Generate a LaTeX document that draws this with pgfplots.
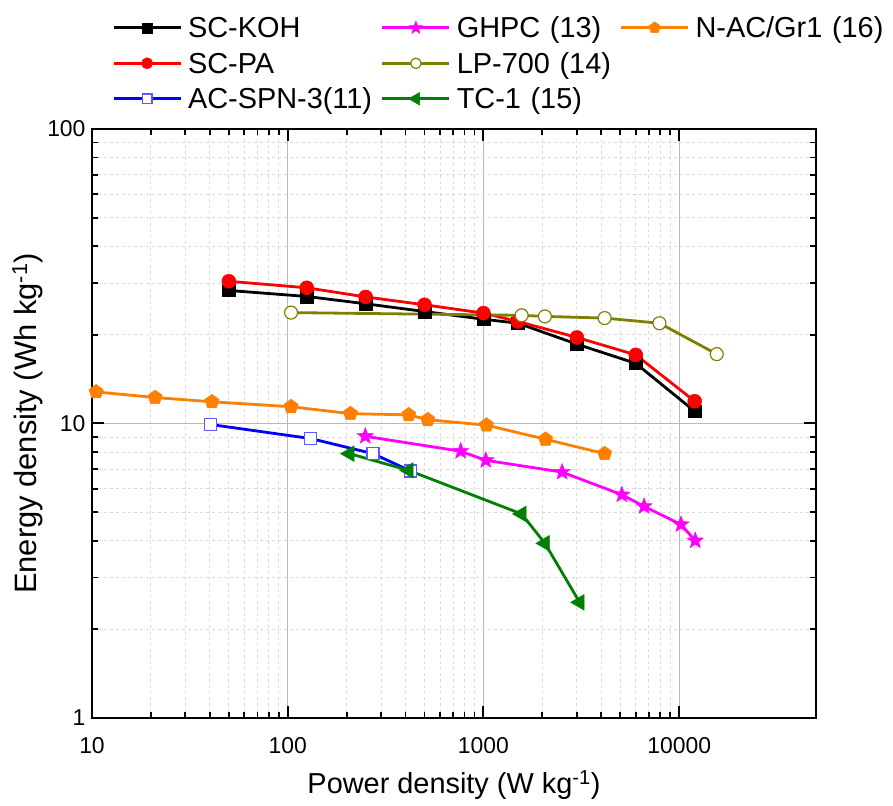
\documentclass[border=0pt]{standalone}
\usepackage{fontspec}
\setmainfont{Liberation Sans}
\usepackage{pgfplots}
\pgfplotsset{compat=1.18}

\definecolor{cOlive}{RGB}{128,128,0}
\definecolor{cGreen}{RGB}{0,128,0}
\definecolor{cOrange}{RGB}{255,128,0}
\definecolor{cMag}{RGB}{255,0,255}
\definecolor{cBlue}{RGB}{0,0,255}
\definecolor{cBlueL}{RGB}{90,90,255}

\pgfdeclareplotmark{fstar}{%
  \pgfpathmoveto{\pgfpointpolar{90}{\pgfplotmarksize}}%
  \pgfpathlineto{\pgfpointpolar{126}{0.42\pgfplotmarksize}}%
  \pgfpathlineto{\pgfpointpolar{162}{\pgfplotmarksize}}%
  \pgfpathlineto{\pgfpointpolar{198}{0.42\pgfplotmarksize}}%
  \pgfpathlineto{\pgfpointpolar{234}{\pgfplotmarksize}}%
  \pgfpathlineto{\pgfpointpolar{270}{0.42\pgfplotmarksize}}%
  \pgfpathlineto{\pgfpointpolar{306}{\pgfplotmarksize}}%
  \pgfpathlineto{\pgfpointpolar{342}{0.42\pgfplotmarksize}}%
  \pgfpathlineto{\pgfpointpolar{18}{\pgfplotmarksize}}%
  \pgfpathlineto{\pgfpointpolar{54}{0.42\pgfplotmarksize}}%
  \pgfpathclose
  \pgfusepathqfillstroke}

\pgfplotsset{
  sKOH/.style={black, line width=2.8bp, mark=square*, mark size=6.3bp, mark options={solid, line width=0.5bp}},
  sPA/.style={red, line width=2.8bp, mark=*, mark size=7bp, mark options={solid, line width=0.5bp}},
  sSPN/.style={cBlue, line width=2.8bp, mark=square*, mark size=6bp, mark options={solid, fill=white, draw=cBlueL, line width=1.5bp}},
  sGHPC/.style={cMag, line width=2.8bp, mark=fstar, mark size=8.5bp, mark options={solid, line width=0.5bp}},
  sLP/.style={cOlive, line width=2.8bp, mark=*, mark size=6.5bp, mark options={solid, fill=white, draw=cOlive, line width=1.2bp}},
  sTC/.style={cGreen, line width=2.8bp, mark=triangle*, mark size=9bp, mark options={solid, rotate=90, line width=0.5bp}},
  sNAC/.style={cOrange, line width=2.8bp, mark=pentagon*, mark size=7.5bp, mark options={solid, line width=0.5bp}},
}

\begin{document}
\begin{tikzpicture}
\useasboundingbox (0,0) rectangle (893bp,806bp);
\begin{axis}[
  at={(92bp,88bp)}, anchor=south west,
  scale only axis, width=724bp, height=589bp,
  xmode=log, ymode=log,
  xmin=10, xmax=50000, ymin=1, ymax=100,
  xtick={10,100,1000,10000}, xticklabels={10,100,1000,10000},
  ytick={1,10,100}, yticklabels={1,10,100},
  grid=both,
  major grid style={gray!55, line width=1bp},
  minor grid style={gray!28, dash pattern=on 3bp off 3bp, line width=0.9bp},
  axis line style={line width=2.2bp},
  major tick style={black, line width=2bp},
  minor tick style={black, line width=1.8bp},
  major tick length=12bp, minor tick length=6bp,
  tick align=inside,
  tick label style={font=\fontsize{23}{27}\selectfont},
  xticklabel style={yshift=-16bp},
  yticklabel style={xshift=-3bp},
  label style={font=\fontsize{29}{34}\selectfont},
  xlabel={Power density (W kg\textsuperscript{-1})},
  ylabel={Energy density (Wh kg\textsuperscript{-1})},
  xlabel style={yshift=-10bp},
  ylabel style={yshift=-2bp, font=\fontsize{31}{36}\selectfont},
  legend columns=3,
  legend cell align=left,
  legend image code/.code={\draw[mark repeat=2,mark phase=2,#1,/tikz/every mark/.append style={scale=0.8}] plot coordinates {(0bp,0bp)(33.5bp,0bp)(67bp,0bp)};},
  legend style={at={(0.0235,1.198)}, anchor=north west, draw=none, fill=none,
    font=\fontsize{29}{34}\selectfont, row sep=9bp, column sep=0bp,
    nodes={inner sep=2bp},
    /tikz/every odd column/.append style={column sep=4bp},
    /tikz/column 2/.style={text width=191bp, text height=21bp, text depth=7bp},
    /tikz/column 4/.style={text width=161bp, text height=21bp, text depth=7bp},
    /tikz/column 6/.style={text width=190bp, text height=21bp, text depth=7bp}},
]
\addplot+[sNAC, forget plot] coordinates {(10.5,12.8)(21,12.25)(41,11.85)(104,11.4)(209,10.8)(415,10.7)(519,10.3)(1036,9.87)(2077,8.84)(4160,7.9)};
\addplot+[sSPN, forget plot] coordinates {(40.4,9.92)(131,8.89)(273,7.9)(424,6.9)};
\addplot+[sTC, forget plot] coordinates {(207,7.9)(415,6.93)(1566,4.93)(2060,3.92)(3100,2.47)};
\addplot+[sGHPC, forget plot] coordinates {(249,9.05)(765,8.05)(1028,7.5)(2522,6.84)(5094,5.73)(6618,5.23)(10210,4.54)(12080,4.0)};
\addplot+[sKOH, forget plot] coordinates {(50,28.3)(125,27.0)(250,25.5)(500,24.0)(1000,22.6)(1500,21.9)(3000,18.6)(6000,16.0)(12000,11.0)};
\addplot+[sPA, forget plot] coordinates {(50,30.4)(125,28.9)(250,26.9)(500,25.3)(1000,23.7)(1500,22.2)(3000,19.6)(6000,17.1)(12000,11.9)};
\addplot+[sLP, forget plot] coordinates {(104,23.8)(1567,23.3)(2060,23.1)(4160,22.8)(7930,21.9)(15560,17.2)};

\addlegendimage{sKOH}\addlegendentry{SC-KOH}
\addlegendimage{sGHPC}\addlegendentry{GHPC (13)}
\addlegendimage{sNAC}\addlegendentry{N-AC/Gr1 (16)}
\addlegendimage{sPA}\addlegendentry{SC-PA}
\addlegendimage{sLP}\addlegendentry{LP-700 (14)}
\addlegendimage{empty legend}\addlegendentry{}
\addlegendimage{sSPN}\addlegendentry{AC-SPN-3(11)}
\addlegendimage{sTC}\addlegendentry{TC-1 (15)}
\end{axis}
\end{tikzpicture}
\end{document}
